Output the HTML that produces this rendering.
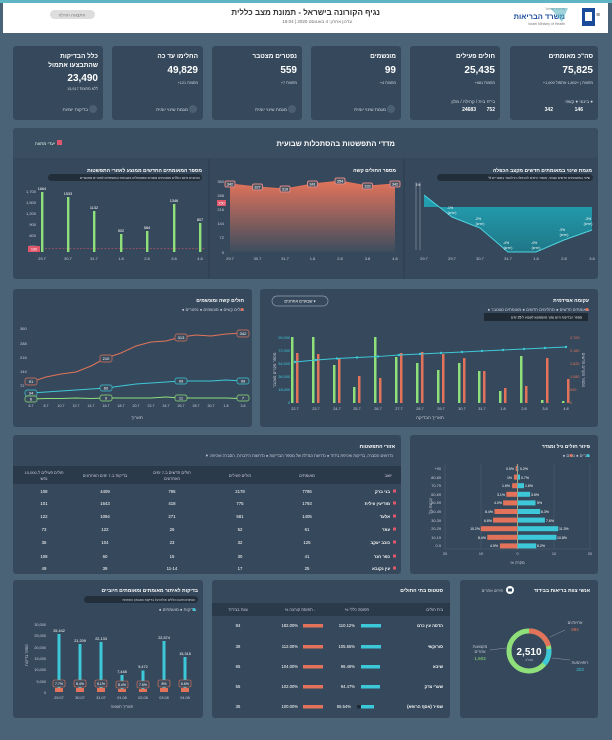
<!DOCTYPE html>
<html><head><meta charset="utf-8"><style>
html,body{margin:0;padding:0;background:#4b6377;}
svg{display:block;font-family:"Liberation Sans","DejaVu Sans",sans-serif;}
</style></head><body>
<svg width="612" height="740" viewBox="0 0 612 740" xmlns="http://www.w3.org/2000/svg">
<rect width="612" height="740" fill="#4b6377"/>
<rect x="0" y="0" width="612" height="3" fill="#5fb5c4"/>
<!-- header -->
<rect x="3" y="3" width="605" height="30" fill="#ffffff"/>
<text x="380" y="15" font-size="8" font-weight="bold" fill="#333" text-anchor="end">נגיף הקורונה בישראל - תמונת מצב כללית</text>
<text x="352" y="23" font-size="4.5" fill="#666" text-anchor="end">עדכון אחרון: 4 באוגוסט 2020 | 19:04</text>
<rect x="50" y="10" width="45" height="9" rx="4.5" fill="#ddd"/>
<text x="72" y="16.5" font-size="4.5" fill="#777" text-anchor="middle">התצוגה הגילה</text>
<rect x="582" y="8" width="13" height="18" fill="#1a4b9b"/><rect x="585" y="12" width="7" height="9" fill="#fff"/>
<text x="596" y="17" font-size="7" fill="#555">≡</text>
<text x="565" y="19" font-size="7.5" font-weight="bold" fill="#1a4b9b" text-anchor="end">משרד הבריאות</text>
<text x="565" y="10" font-size="3.5" fill="#777" text-anchor="end">מדינת ישראל</text>
<text x="565" y="25" font-size="3.5" fill="#777" text-anchor="end">Israel Ministry of Health</text>
<polygon points="548,8 566,8 560,22" fill="#5fb5c4" opacity="0.6" transform="translate(2,0)"/>

<!-- KPI cards -->
<g font-size="5" fill="#fff">
<rect x="510" y="46" width="88" height="74" rx="3" fill="#36495c"/>
<text x="593" y="58" font-size="6.5" font-weight="bold" text-anchor="end" fill="#fff">סה"כ מאומתים</text>
<text x="593" y="73" font-size="10" font-weight="bold" text-anchor="end" fill="#fff">75,825</text>
<text x="593" y="84" font-size="3.8" text-anchor="end" fill="#cfd8e0">+1,009 מחצות | +1,802 אתמול</text>
<text x="593" y="103" font-size="4.5" text-anchor="end" fill="#cfd8e0">בינוני ● קשה ●</text>
<text x="583" y="111" font-size="5" font-weight="bold" text-anchor="end" fill="#fff">146</text>
<text x="553" y="111" font-size="5" font-weight="bold" text-anchor="end" fill="#fff">342</text>

<rect x="410" y="46" width="90" height="74" rx="3" fill="#36495c"/>
<text x="495" y="58" font-size="6.5" font-weight="bold" text-anchor="end" fill="#fff">חולים פעילים</text>
<text x="495" y="73" font-size="10" font-weight="bold" text-anchor="end" fill="#fff">25,435</text>
<text x="495" y="84" font-size="3.8" text-anchor="end" fill="#cfd8e0">+881 מחצות</text>
<text x="495" y="103" font-size="4.5" text-anchor="end" fill="#cfd8e0">בי"ח   בית / קהילה / מלון</text>
<text x="495" y="111" font-size="5" font-weight="bold" text-anchor="end" fill="#fff">752</text>
<text x="476" y="111" font-size="5" font-weight="bold" text-anchor="end" fill="#fff">24683</text>

<rect x="311" y="46" width="90" height="74" rx="3" fill="#36495c"/>
<text x="396" y="58" font-size="6.5" font-weight="bold" text-anchor="end" fill="#fff">מונשמים</text>
<text x="396" y="73" font-size="10" font-weight="bold" text-anchor="end" fill="#fff">99</text>
<text x="396" y="84" font-size="3.8" text-anchor="end" fill="#cfd8e0">+4 מחצות</text>
<text x="386" y="111" font-size="4.5" text-anchor="end" fill="#cfd8e0">מגמת שינוי יומית</text>
<circle cx="391" cy="109" r="4" fill="#4b5f72"/>

<rect x="212" y="46" width="90" height="74" rx="3" fill="#36495c"/>
<text x="297" y="58" font-size="6.5" font-weight="bold" text-anchor="end" fill="#fff">נפטרים מצטבר</text>
<text x="297" y="73" font-size="10" font-weight="bold" text-anchor="end" fill="#fff">559</text>
<text x="297" y="84" font-size="3.8" text-anchor="end" fill="#cfd8e0">+7 מחצות</text>
<text x="287" y="111" font-size="4.5" text-anchor="end" fill="#cfd8e0">מגמת שינוי יומית</text>
<circle cx="292" cy="109" r="4" fill="#4b5f72"/>

<rect x="112" y="46" width="91" height="74" rx="3" fill="#36495c"/>
<text x="198" y="58" font-size="6.5" font-weight="bold" text-anchor="end" fill="#fff">החלימו עד כה</text>
<text x="198" y="73" font-size="10" font-weight="bold" text-anchor="end" fill="#fff">49,829</text>
<text x="198" y="84" font-size="3.8" text-anchor="end" fill="#cfd8e0">+121 מחצות</text>
<text x="188" y="111" font-size="4.5" text-anchor="end" fill="#cfd8e0">מגמת שינוי יומית</text>
<circle cx="193" cy="109" r="4" fill="#4b5f72"/>

<rect x="13" y="46" width="90" height="74" rx="3" fill="#36495c"/>
<text x="98" y="58" font-size="6.5" font-weight="bold" text-anchor="end" fill="#fff">כלל הבדיקות</text>
<text x="98" y="67" font-size="6.5" font-weight="bold" text-anchor="end" fill="#fff">שהתבצעו אתמול</text>
<text x="98" y="81" font-size="10" font-weight="bold" text-anchor="end" fill="#fff">23,490</text>
<text x="98" y="90" font-size="3.8" text-anchor="end" fill="#cfd8e0">15,917 ללא מחצות</text>
<text x="88" y="111" font-size="4.5" text-anchor="end" fill="#cfd8e0">בדיקות יומיות</text>
<circle cx="93" cy="109" r="4" fill="#4b5f72"/>
</g>

<!-- Section 2 -->
<rect x="13" y="128" width="585" height="151" rx="3" fill="#36495c"/>
<rect x="13" y="128" width="585" height="30" rx="3" fill="#3a4e61"/>
<text x="395" y="146" font-size="7.5" font-weight="bold" fill="#fff" text-anchor="end">מדדי התפשטות בהסתכלות שבועית</text>
<rect x="57" y="140" width="5" height="5" fill="#e0566a"/>
<text x="55" y="145" font-size="4.5" fill="#dfe" text-anchor="end">יעדי מתווה</text>
<line x1="209" y1="159" x2="209" y2="279" stroke="#2a3a4a" stroke-width="1"/>
<line x1="404" y1="159" x2="404" y2="279" stroke="#2a3a4a" stroke-width="1"/>
<!-- right panel -->
<text x="592" y="172" font-size="5" font-weight="bold" fill="#fff" text-anchor="end">מגמת שינוי במאומתים חדשים מקצב הכפלה</text>
<rect x="437" y="174" width="156" height="7" rx="3.5" fill="#222f3b"/>
<text x="590" y="179" font-size="3.3" fill="#dde" text-anchor="end">% שינוי במאומתים חדשים שבועי, מספר הימים להכפלה הרלוונטי בסוגריים</text>
<defs><linearGradient id="tg" x1="0" y1="0" x2="0" y2="1"><stop offset="0" stop-color="#1fb3c4"/><stop offset="1" stop-color="#1b7e8e"/></linearGradient>
<linearGradient id="og" x1="0" y1="0" x2="0" y2="1"><stop offset="0" stop-color="#e2735a"/><stop offset="1" stop-color="#3d4d5e"/></linearGradient></defs>
<polygon points="424,195 452,217 480,228 508,252 536,252 564,240 592,230 592,207 424,207" fill="url(#tg)" opacity="0.85"/>
<polyline points="424,195 452,217 480,228 508,252 536,252 564,240 592,230" fill="none" stroke="#4fd3e0" stroke-width="1"/>
<g stroke="#aab" stroke-width="0.5"><line x1="416" y1="182" x2="416" y2="250"/><line x1="420" y1="182" x2="420" y2="250"/></g>
<text x="418" y="186" font-size="3.5" fill="#fff" text-anchor="middle">1%</text>
<g font-size="3.5" fill="#fff" text-anchor="middle">
<text x="450" y="209">-1%</text><text x="452" y="214">(ימים)</text>
<text x="478" y="220">-2%</text><text x="480" y="225">(ימים)</text>
<text x="506" y="244">-4%</text><text x="508" y="249">(ימים)</text>
<text x="534" y="244">-4%</text><text x="536" y="249">(ימים)</text>
<text x="562" y="231">-3%</text><text x="564" y="236">(ימים)</text>
<text x="588" y="220">-3%</text><text x="588" y="225">(ימים)</text>
</g>
<g font-size="4" fill="#ccd" text-anchor="middle">
<text x="424" y="260">29.7</text><text x="452" y="260">29.7</text><text x="480" y="260">30.7</text><text x="508" y="260">31.7</text><text x="536" y="260">1.8</text><text x="564" y="260">2.8</text><text x="592" y="260">3.8</text></g>
<!-- middle panel -->
<text x="396" y="172" font-size="5" font-weight="bold" fill="#fff" text-anchor="end">מספר החולים קשה</text>
<polygon points="230,184 257.5,187 285,189 312.5,184 340,181 367.5,186 395,184 395,252 230,252" fill="url(#og)"/>
<polyline points="230,184 257.5,187 285,189 312.5,184 340,181 367.5,186 395,184" fill="none" stroke="#e2735a" stroke-width="1"/>
<g font-size="4" fill="#ccd" text-anchor="end"><text x="224" y="183">360</text><text x="224" y="197">288</text><text x="224" y="211">216</text><text x="224" y="225">144</text><text x="224" y="239">72</text><text x="224" y="254">0</text></g>
<rect x="217" y="200" width="9" height="6" fill="#e0566a"/><text x="221.5" y="204.5" font-size="3.8" fill="#fff" text-anchor="middle">250</text>
<g font-size="3.8" fill="#fff" text-anchor="middle">
<rect x="225" y="181" width="10" height="6" rx="1.5" fill="#4a5560" stroke="#d88"/><text x="230" y="185.5">342</text>
<rect x="252.5" y="184" width="10" height="6" rx="1.5" fill="#4a5560" stroke="#d88"/><text x="257.5" y="188.5">327</text>
<rect x="280" y="186" width="10" height="6" rx="1.5" fill="#4a5560" stroke="#d88"/><text x="285" y="190.5">319</text>
<rect x="307.5" y="181" width="10" height="6" rx="1.5" fill="#4a5560" stroke="#d88"/><text x="312.5" y="185.5">341</text>
<rect x="335" y="178" width="10" height="6" rx="1.5" fill="#4a5560" stroke="#d88"/><text x="340" y="182.5">354</text>
<rect x="362.5" y="183" width="10" height="6" rx="1.5" fill="#4a5560" stroke="#d88"/><text x="367.5" y="187.5">333</text>
<rect x="390" y="181" width="10" height="6" rx="1.5" fill="#4a5560" stroke="#d88"/><text x="395" y="185.5">342</text></g>
<g font-size="4" fill="#ccd" text-anchor="middle"><text x="230" y="260">29.7</text><text x="257.5" y="260">30.7</text><text x="285" y="260">31.7</text><text x="312.5" y="260">1.8</text><text x="340" y="260">2.8</text><text x="367.5" y="260">3.8</text><text x="395" y="260">4.8</text></g>
<!-- left panel -->
<text x="202" y="172" font-size="5" font-weight="bold" fill="#fff" text-anchor="end">מספר המאומתים החדשים ממוצע לאזורי התפשטות</text>
<rect x="48" y="174" width="154" height="7" rx="3.5" fill="#222f3b"/>
<text x="200" y="179" font-size="3.3" fill="#dde" text-anchor="end">הנתונים אינם כוללים מאומתים משבים שמטופלים בשבתות ובאשפוזים לאזורים מאושרים</text>
<g font-size="4" fill="#ccd" text-anchor="end"><text x="36" y="193">1,700</text><text x="36" y="204">1,500</text><text x="36" y="215">1,200</text><text x="36" y="226">900</text><text x="36" y="237">600</text><text x="36" y="248">300</text></g>
<line x1="38" y1="248.5" x2="205" y2="248.5" stroke="#e0566a" stroke-width="0.6" stroke-dasharray="2,1.5"/>
<rect x="28" y="246" width="12" height="6" fill="#e0566a"/><text x="34" y="250.5" font-size="3.8" fill="#fff" text-anchor="middle">100</text>
<g fill="#8fe07a">
<rect x="41" y="192" width="2.4" height="60"/><rect x="67" y="197" width="2.4" height="55"/><rect x="93" y="211" width="2.4" height="41"/><rect x="120" y="234" width="2.4" height="18"/><rect x="146" y="231" width="2.4" height="21"/><rect x="173" y="204" width="2.4" height="48"/><rect x="199" y="223" width="2.4" height="29"/></g>
<g font-size="3.8" fill="#fff" text-anchor="middle"><text x="42" y="190">1664</text><text x="68" y="195">1533</text><text x="94" y="209">1132</text><text x="121" y="232">502</text><text x="147" y="229">584</text><text x="174" y="202">1346</text><text x="200" y="221">807</text></g>
<g font-size="4" fill="#ccd" text-anchor="middle"><text x="42" y="260">29.7</text><text x="68" y="260">30.7</text><text x="94" y="260">31.7</text><text x="121" y="260">1.8</text><text x="147" y="260">2.8</text><text x="174" y="260">3.8</text><text x="200" y="260">4.8</text></g>

<!-- Section 3 left -->
<rect x="13" y="289" width="239" height="138" rx="3" fill="#36495c"/>
<text x="244" y="302" font-size="5" font-weight="bold" fill="#fff" text-anchor="end">חולים קשה ומונשמים</text>
<text x="244" y="311" font-size="4.2" fill="#ccd" text-anchor="end">● חולים קשים  ● מונשמים  ● נפטרים</text>
<circle cx="242" cy="309.5" r="1.5" fill="#e2735a"/>
<g font-size="4" fill="#ccd"><text x="20" y="330">360</text><text x="20" y="345">288</text><text x="20" y="359">216</text><text x="20" y="373">144</text><text x="20" y="387">72</text></g>
<polyline points="31,382 46,377 61,374 76,372 91,366 106,358 121,353 136,346 151,342 166,341 181,337 196,335 211,336 226,334 243,333" fill="none" stroke="#e2735a" stroke-width="1"/>
<polyline points="31,393 46,392 61,391 76,390 91,389 106,388 121,386 136,384 151,383 166,382 181,381 196,381 211,381 226,380 243,381" fill="none" stroke="#3cc8d8" stroke-width="1"/>
<polyline points="31,399 46,398.5 61,398.5 76,398 91,398.5 106,398 121,398 136,398 151,398 166,397 181,398 196,398 211,398 226,398 243,398.6" fill="none" stroke="#8fe07a" stroke-width="1"/>
<g font-size="4" fill="#fff" text-anchor="middle" stroke-width="0.7">
<rect x="25" y="378" width="12" height="7" rx="2" fill="#3a4b5d" stroke="#e2735a"/><text x="31" y="383">91</text>
<rect x="100" y="355" width="12" height="7" rx="2" fill="#3a4b5d" stroke="#e2735a"/><text x="106" y="360">210</text>
<rect x="175" y="334" width="12" height="7" rx="2" fill="#3a4b5d" stroke="#e2735a"/><text x="181" y="339">313</text>
<rect x="237" y="330" width="12" height="7" rx="2" fill="#3a4b5d" stroke="#e2735a"/><text x="243" y="335">342</text>
<rect x="25" y="390" width="12" height="6" rx="2" fill="#3a4b5d" stroke="#3cc8d8"/><text x="31" y="394.5">34</text>
<rect x="100" y="385" width="12" height="6" rx="2" fill="#3a4b5d" stroke="#3cc8d8"/><text x="106" y="389.5">60</text>
<rect x="175" y="378" width="12" height="6" rx="2" fill="#3a4b5d" stroke="#3cc8d8"/><text x="181" y="382.5">99</text>
<rect x="237" y="378" width="12" height="6" rx="2" fill="#3a4b5d" stroke="#3cc8d8"/><text x="243" y="382.5">99</text>
<rect x="25" y="396" width="12" height="6" rx="2" fill="#3a4b5d" stroke="#8fe07a"/><text x="31" y="400.5">6</text>
<rect x="100" y="395" width="12" height="6" rx="2" fill="#3a4b5d" stroke="#8fe07a"/><text x="106" y="399.5">9</text>
<rect x="175" y="395" width="12" height="6" rx="2" fill="#3a4b5d" stroke="#8fe07a"/><text x="181" y="399.5">11</text>
<rect x="237" y="395" width="12" height="6" rx="2" fill="#3a4b5d" stroke="#8fe07a"/><text x="243" y="399.5">7</text></g>
<g font-size="3.6" fill="#ccd" text-anchor="middle"><text x="31" y="407">6.7</text><text x="46" y="407">8.7</text><text x="61" y="407">10.7</text><text x="76" y="407">12.7</text><text x="91" y="407">14.7</text><text x="106" y="407">16.7</text><text x="121" y="407">18.7</text><text x="136" y="407">20.7</text><text x="151" y="407">22.7</text><text x="166" y="407">24.7</text><text x="181" y="407">26.7</text><text x="196" y="407">28.7</text><text x="211" y="407">30.7</text><text x="226" y="407">1.8</text><text x="243" y="407">3.8</text></g>
<text x="137" y="419" font-size="4.5" fill="#ccd" text-anchor="middle">תאריך</text>

<!-- Section 3 right -->
<rect x="260" y="289" width="338" height="138" rx="3" fill="#36495c"/>
<text x="589" y="302" font-size="5" font-weight="bold" fill="#fff" text-anchor="end">עקומה אפידמית</text>
<rect x="272" y="296" width="56" height="10" rx="5" fill="none" stroke="#8fa0b0" stroke-width="0.7"/>
<text x="300" y="302.5" font-size="4" fill="#fff" text-anchor="middle">שבועיים אחרונים ▾</text>
<text x="589" y="311" font-size="4.2" fill="#ccd" text-anchor="end">● מאומתים חדשים  ● מחלימים חדשים  ● מאומתים מצטבר</text>
<circle cx="587" cy="309.5" r="1.5" fill="#e2735a"/>
<rect x="484" y="313" width="104" height="8" fill="#1f2a35"/>
<text x="582" y="318.5" font-size="3.2" fill="#fff" text-anchor="end">מספר הבדיקות היום נמוך מהממוצע לשבוע ל-25 ימים</text>
<g font-size="3.8" fill="#3cc8d8" text-anchor="end"><text x="290" y="339">90,000</text><text x="290" y="352">72,000</text><text x="290" y="365">54,000</text><text x="290" y="378">36,000</text><text x="290" y="391">18,000</text><text x="290" y="404">0</text></g>
<g font-size="3.8" fill="#e2735a"><text x="570" y="339">2,700</text><text x="570" y="352">2,160</text><text x="570" y="365">1,620</text><text x="570" y="378">1,080</text><text x="570" y="391">540</text><text x="570" y="404">0</text></g>
<text x="276" y="370" font-size="4" fill="#ccd" text-anchor="middle" transform="rotate(-90 276 370)">מספר מקרים מצטבר</text>
<text x="582" y="370" font-size="4" fill="#ccd" text-anchor="middle" transform="rotate(90 582 370)">מספר מקרים חדשים</text>
<g fill="#8fe07a">
<rect x="291" y="337" width="2.5" height="66"/><rect x="312" y="337" width="2.5" height="66"/><rect x="333" y="365" width="2.5" height="38"/><rect x="353" y="387" width="2.5" height="16"/><rect x="374" y="337" width="2.5" height="66"/><rect x="395" y="357" width="2.5" height="46"/><rect x="416" y="363" width="2.5" height="40"/><rect x="437" y="370" width="2.5" height="33"/><rect x="458" y="363" width="2.5" height="40"/><rect x="478" y="371" width="2.5" height="32"/><rect x="499" y="391" width="2.5" height="12"/><rect x="520" y="356" width="2.5" height="47"/><rect x="541" y="400" width="2.5" height="3"/><rect x="562" y="401" width="2.5" height="2"/></g>
<g fill="#e2735a">
<rect x="296" y="353" width="2.5" height="50"/><rect x="317" y="354" width="2.5" height="49"/><rect x="338" y="358" width="2.5" height="45"/><rect x="358" y="376" width="2.5" height="27"/><rect x="379" y="378" width="2.5" height="25"/><rect x="400" y="353" width="2.5" height="50"/><rect x="421" y="352" width="2.5" height="51"/><rect x="442" y="354" width="2.5" height="49"/><rect x="463" y="358" width="2.5" height="45"/><rect x="483" y="371" width="2.5" height="32"/><rect x="504" y="388" width="2.5" height="15"/><rect x="525" y="386" width="2.5" height="17"/><rect x="546" y="358" width="2.5" height="45"/><rect x="567" y="379" width="2.5" height="24"/></g>
<polyline points="295,362 316,360 337,358.5 357,357.5 378,356.5 399,355 420,354 441,353 462,352 482,351 503,350 524,349 545,348 566,347" fill="none" stroke="#3cc8d8" stroke-width="0.9"/>
<g fill="#3cc8d8"><circle cx="295" cy="362" r="1.2"/><circle cx="316" cy="360" r="1.2"/><circle cx="337" cy="358.5" r="1.2"/><circle cx="357" cy="357.5" r="1.2"/><circle cx="378" cy="356.5" r="1.2"/><circle cx="399" cy="355" r="1.2"/><circle cx="420" cy="354" r="1.2"/><circle cx="441" cy="353" r="1.2"/><circle cx="462" cy="352" r="1.2"/><circle cx="482" cy="351" r="1.2"/><circle cx="503" cy="350" r="1.2"/><circle cx="524" cy="349" r="1.2"/><circle cx="545" cy="348" r="1.2"/><circle cx="566" cy="347" r="1.2"/></g>
<g font-size="3.8" fill="#ccd" text-anchor="middle"><text x="295" y="410">22.7</text><text x="316" y="410">23.7</text><text x="337" y="410">24.7</text><text x="357" y="410">25.7</text><text x="378" y="410">26.7</text><text x="399" y="410">27.7</text><text x="420" y="410">28.7</text><text x="441" y="410">29.7</text><text x="462" y="410">30.7</text><text x="482" y="410">31.7</text><text x="503" y="410">1.8</text><text x="524" y="410">2.8</text><text x="545" y="410">3.8</text><text x="566" y="410">4.8</text></g>
<text x="430" y="419" font-size="4.5" fill="#ccd" text-anchor="middle">תאריך הבדיקה</text>

<!-- Section 4 table -->
<rect x="13" y="435" width="388" height="139" rx="3" fill="#36495c"/>
<text x="395" y="448" font-size="5" font-weight="bold" fill="#fff" text-anchor="end">אזורי התפשטות</text>
<text x="393" y="457" font-size="4" fill="#ccd" text-anchor="end">▼ נדרשים הסברה, בדיקות ואכיפת בידוד   ● נדרשת הגדלה של מספר הבדיקות   ● נדרשות הידברות, הסברה ואכיפה</text>
<rect x="13" y="466" width="388" height="18" fill="#2a3a4a"/>
<g font-size="4" fill="#ccd" text-anchor="middle">
<text x="392" y="477" text-anchor="end">ישוב</text><text x="307" y="477">מאומתים</text><text x="240" y="477">חולים פעילים</text>
<text x="172" y="474">חולים חדשים ב-7 ימים</text><text x="172" y="480">האחרונים</text>
<text x="105" y="477">בדיקות ב-7 ימים האחרונים</text>
<text x="44" y="474">חולים פעילים ל-10,000</text><text x="44" y="480">נפש</text></g>
<g font-size="4.3" fill="#fff" text-anchor="middle">
<g><text x="390" y="493" text-anchor="end" font-weight="bold">בני ברק</text><text x="307" y="493">7786</text><text x="240" y="493">2178</text><text x="172" y="493">795</text><text x="105" y="493">4409</text><text x="44" y="493">108</text></g>
<g><text x="390" y="505" text-anchor="end" font-weight="bold">מודיעין עילית</text><text x="307" y="505">1793</text><text x="240" y="505">775</text><text x="172" y="505">418</text><text x="105" y="505">1643</text><text x="44" y="505">101</text></g>
<g><text x="390" y="518" text-anchor="end" font-weight="bold">אלעד</text><text x="307" y="518">1405</text><text x="240" y="518">581</text><text x="172" y="518">271</text><text x="105" y="518">1094</text><text x="44" y="518">122</text></g>
<g><text x="390" y="531" text-anchor="end" font-weight="bold">עוזר</text><text x="307" y="531">61</text><text x="240" y="531">52</text><text x="172" y="531">26</text><text x="105" y="531">122</text><text x="44" y="531">73</text></g>
<g><text x="390" y="544" text-anchor="end" font-weight="bold">כוכב יעקב</text><text x="307" y="544">125</text><text x="240" y="544">32</text><text x="172" y="544">23</text><text x="105" y="544">104</text><text x="44" y="544">36</text></g>
<g><text x="390" y="558" text-anchor="end" font-weight="bold">כפר חנר</text><text x="307" y="558">41</text><text x="240" y="558">30</text><text x="172" y="558">15</text><text x="105" y="558">60</text><text x="44" y="558">108</text></g>
<g><text x="390" y="570" text-anchor="end" font-weight="bold">עין נקובא</text><text x="307" y="570">25</text><text x="240" y="570">17</text><text x="172" y="570">11-14</text><text x="105" y="570">39</text><text x="44" y="570">49</text></g>
</g>
<g fill="#e0566a"><rect x="393" y="489.5" width="3" height="3"/><rect x="393" y="501.5" width="3" height="3"/><rect x="393" y="514.5" width="3" height="3"/><rect x="393" y="527.5" width="3" height="3"/><rect x="393" y="540.5" width="3" height="3"/><rect x="393" y="554.5" width="3" height="3"/><rect x="393" y="566.5" width="3" height="3"/></g>

<!-- pyramid -->
<rect x="410" y="435" width="188" height="139" rx="3" fill="#36495c"/>
<text x="590" y="448" font-size="5" font-weight="bold" fill="#fff" text-anchor="end">פיזור חולים גיל ומגדר</text>
<text x="590" y="457" font-size="4.2" fill="#ccd" text-anchor="end">● גברים  ● נשים</text>
<circle cx="588" cy="455.5" r="1.5" fill="#3cc8d8"/><circle cx="571" cy="455.5" r="1.5" fill="#e2735a"/>
<g stroke="#556677" stroke-width="0.4"><line x1="445" y1="464" x2="445" y2="549"/><line x1="481" y1="464" x2="481" y2="549"/><line x1="554" y1="464" x2="554" y2="549"/><line x1="590" y1="464" x2="590" y2="549"/><line x1="445" y1="549" x2="590" y2="549"/></g>
<line x1="517.5" y1="464" x2="517.5" y2="549" stroke="#ffe08a" stroke-width="0.6"/>
<g font-size="3.8" fill="#ccd" text-anchor="end"><text x="441" y="470">+90</text><text x="441" y="479">80-89</text><text x="441" y="487">70-79</text><text x="441" y="496">60-69</text><text x="441" y="504">50-59</text><text x="441" y="513">40-49</text><text x="441" y="522">30-39</text><text x="441" y="530">20-29</text><text x="441" y="539">10-19</text><text x="441" y="547">0-9</text></g>
<g fill="#e2735a">
<rect x="515.7" y="466" width="1.8" height="5"/><rect x="513.9" y="474.6" width="3.6" height="5"/><rect x="512.1" y="483.2" width="5.4" height="5"/><rect x="506.3" y="491.8" width="11.2" height="5"/><rect x="503.1" y="500.4" width="14.4" height="5"/><rect x="494.5" y="509" width="23" height="5"/><rect x="493" y="517.6" width="24.5" height="5"/><rect x="480.8" y="526.2" width="36.7" height="5"/><rect x="487.3" y="534.8" width="30.2" height="5"/><rect x="499.9" y="543.4" width="17.6" height="5"/></g>
<g fill="#3cc8d8">
<rect x="517.5" y="466" width="0.8" height="5"/><rect x="517.5" y="474.6" width="2.5" height="5"/><rect x="517.5" y="483.2" width="6.5" height="5"/><rect x="517.5" y="491.8" width="12.6" height="5"/><rect x="517.5" y="500.4" width="18" height="5"/><rect x="517.5" y="509" width="22.7" height="5"/><rect x="517.5" y="517.6" width="27.4" height="5"/><rect x="517.5" y="526.2" width="40.7" height="5"/><rect x="517.5" y="534.8" width="38.9" height="5"/><rect x="517.5" y="543.4" width="18.7" height="5"/></g>
<g font-size="3.5" fill="#fff">
<g text-anchor="end"><text x="514" y="470">0.5%</text><text x="512" y="479">1%</text><text x="510" y="487">1.5%</text><text x="505" y="496">3.1%</text><text x="502" y="504">4.0%</text><text x="493" y="513">6.4%</text><text x="492" y="522">6.8%</text><text x="480" y="530">10.2%</text><text x="486" y="539">8.4%</text><text x="498" y="547">4.9%</text></g>
<text x="520" y="470">0.2%</text><text x="521" y="479">0.7%</text><text x="525" y="487">1.8%</text><text x="531" y="496">3.5%</text><text x="537" y="504">5%</text><text x="541" y="513">6.3%</text><text x="546" y="522">7.6%</text><text x="559" y="530">11.3%</text><text x="557" y="539">10.8%</text><text x="537" y="547">5.2%</text></g>
<g font-size="3.8" fill="#ccd" text-anchor="middle"><text x="445" y="555">20</text><text x="481" y="555">10</text><text x="517.5" y="555">0</text><text x="554" y="555">10</text><text x="590" y="555">20</text></g>
<text x="517.5" y="564" font-size="4" fill="#ccd" text-anchor="middle">% מקרה</text>
<text x="432" y="506" font-size="3.8" fill="#ccd" text-anchor="middle" transform="rotate(-90 432 506)">קבוצת גיל</text>

<!-- Section 5 left -->
<rect x="13" y="580" width="190" height="138" rx="3" fill="#36495c"/>
<text x="198" y="592" font-size="5" font-weight="bold" fill="#fff" text-anchor="end">בדיקות לאיתור מאומתים ומאומתים חיוביים</text>
<rect x="84" y="596" width="114" height="7" rx="3.5" fill="#222f3b"/>
<text x="195" y="601" font-size="3.2" fill="#dde" text-anchor="end">הנתונים אינם כוללים חולים על בדיקות האבחון החוזרות</text>
<text x="196" y="611" font-size="4.2" fill="#ccd" text-anchor="end">● בדיקות  ● מאומתים</text>
<circle cx="194" cy="609.5" r="1.5" fill="#3cc8d8"/>
<g font-size="3.8" fill="#ccd" text-anchor="end"><text x="46" y="626">30,000</text><text x="46" y="637">25,000</text><text x="46" y="649">20,000</text><text x="46" y="660">15,000</text><text x="46" y="671">10,000</text><text x="46" y="683">5,000</text><text x="46" y="694">0</text></g>
<g fill="#3cc8d8">
<rect x="57.5" y="634" width="3" height="58"/><rect x="78.5" y="644" width="3" height="48"/><rect x="99.5" y="642" width="3" height="50"/><rect x="120.5" y="675" width="3" height="17"/><rect x="141.5" y="670.5" width="3" height="21.5"/><rect x="162.5" y="641" width="3" height="51"/><rect x="183.5" y="657" width="3" height="35"/></g>
<g font-size="3.8" fill="#fff" text-anchor="middle"><text x="59" y="632">25,442</text><text x="80" y="642">21,209</text><text x="101" y="640">22,133</text><text x="122" y="673">7,448</text><text x="143" y="668">9,472</text><text x="164" y="639">22,574</text><text x="185" y="655">15,315</text></g>
<g font-size="3.5" fill="#fff" text-anchor="middle">
<g fill="#e2735a"><rect x="55" y="688" width="8" height="4"/><rect x="76" y="688" width="8" height="4"/><rect x="97" y="688" width="8" height="4"/><rect x="118" y="689" width="8" height="3"/><rect x="139" y="689" width="8" height="3"/><rect x="160" y="688" width="8" height="4"/><rect x="181" y="688" width="8" height="4"/></g>
<g fill="#3a4b5d" stroke="#e2735a" stroke-width="0.6"><rect x="53" y="680" width="12" height="7" rx="1.5"/><rect x="74" y="680" width="12" height="7" rx="1.5"/><rect x="95" y="680" width="12" height="7" rx="1.5"/><rect x="116" y="681" width="12" height="7" rx="1.5"/><rect x="137" y="681" width="12" height="7" rx="1.5"/><rect x="158" y="680" width="12" height="7" rx="1.5"/><rect x="179" y="680" width="12" height="7" rx="1.5"/></g>
<text x="59" y="685">7.7%</text><text x="80" y="685">8.4%</text><text x="101" y="685">5.1%</text><text x="122" y="686">8.4%</text><text x="143" y="686">7.5%</text><text x="164" y="685">8%</text><text x="185" y="685">6.6%</text></g>
<g font-size="3.8" fill="#ccd" text-anchor="middle"><text x="59" y="699">29.07</text><text x="80" y="699">30.07</text><text x="101" y="699">31.07</text><text x="122" y="699">01.08</text><text x="143" y="699">02.08</text><text x="164" y="699">03.08</text><text x="185" y="699">04.08</text></g>
<text x="122" y="708" font-size="4" fill="#ccd" text-anchor="middle">תאריך תוצאה</text>
<text x="28" y="655" font-size="3.8" fill="#ccd" text-anchor="middle" transform="rotate(-90 28 655)">מספר בדיקות</text>

<!-- Section 5 middle -->
<rect x="212" y="580" width="238" height="138" rx="3" fill="#36495c"/>
<text x="443" y="592" font-size="5" font-weight="bold" fill="#fff" text-anchor="end">סטטוס בתי החולים</text>
<rect x="212" y="603" width="238" height="13" fill="#2a3a4a"/>
<g font-size="4" fill="#ccd" text-anchor="middle"><text x="443" y="611" text-anchor="end">בית חולים</text><text x="357" y="611">% תפוסה כללי</text><text x="300" y="611">% תפוסת קורונה -</text><text x="238" y="611">צוות בבידוד</text></g>
<g font-size="4.2" fill="#fff">
<g><text x="443" y="627" text-anchor="end" font-weight="bold">הדסה עין כרם</text><text x="355" y="627" text-anchor="end">110.12%</text><rect x="361" y="624" width="20" height="3.5" fill="#3cc8d8"/><text x="298" y="627" text-anchor="end">182.00%</text><rect x="303" y="624" width="20" height="3.5" fill="#e2735a"/><text x="238" y="627" text-anchor="middle">84</text></g>
<g><text x="443" y="648" text-anchor="end" font-weight="bold">סורוקשי</text><text x="355" y="648" text-anchor="end">105.55%</text><rect x="361" y="645" width="20" height="3.5" fill="#3cc8d8"/><text x="298" y="648" text-anchor="end">112.00%</text><rect x="303" y="645" width="20" height="3.5" fill="#e2735a"/><text x="238" y="648" text-anchor="middle">39</text></g>
<g><text x="443" y="668" text-anchor="end" font-weight="bold">שיבא</text><text x="355" y="668" text-anchor="end">96.46%</text><rect x="361" y="665" width="19" height="3.5" fill="#3cc8d8"/><text x="298" y="668" text-anchor="end">104.00%</text><rect x="303" y="665" width="20" height="3.5" fill="#e2735a"/><text x="238" y="668" text-anchor="middle">65</text></g>
<g><text x="443" y="688" text-anchor="end" font-weight="bold">שערי צדק</text><text x="355" y="688" text-anchor="end">94.47%</text><rect x="361" y="685" width="19" height="3.5" fill="#3cc8d8"/><text x="298" y="688" text-anchor="end">102.00%</text><rect x="303" y="685" width="20" height="3.5" fill="#e2735a"/><text x="238" y="688" text-anchor="middle">55</text></g>
<g><text x="443" y="708" text-anchor="end" font-weight="bold">שמיר (אסף הרופא)</text><text x="351" y="708" text-anchor="end">65.54%</text><rect x="357" y="705" width="4" height="3.5" fill="#1f2a35"/><rect x="361" y="705" width="13" height="3.5" fill="#3cc8d8"/><text x="298" y="708" text-anchor="end">100.00%</text><rect x="303" y="705" width="20" height="3.5" fill="#e2735a"/><text x="238" y="708" text-anchor="middle">35</text></g>
</g>

<!-- Section 5 right -->
<rect x="460" y="580" width="138" height="138" rx="3" fill="#36495c"/>
<text x="590" y="592" font-size="5" font-weight="bold" fill="#fff" text-anchor="end">אנשי צוות בריאות בבידוד</text>
<circle cx="510" cy="590" r="4" fill="#fff"/><rect x="508" y="588.5" width="4" height="3" fill="#36495c"/>
<text x="503" y="592" font-size="4" fill="#ccd" text-anchor="end">פירוט אחרים</text>
<circle cx="529" cy="651" r="20" fill="none" stroke="#8fe07a" stroke-width="5"/>
<path d="M529 631 A20 20 0 0 1 548.5 646" fill="none" stroke="#e2735a" stroke-width="5"/>
<path d="M548.9 649 A20 20 0 0 1 544 664" fill="none" stroke="#3cc8d8" stroke-width="5"/>
<text x="529" y="655" font-size="10" font-weight="bold" fill="#fff" text-anchor="middle">2,510</text>
<text x="529" y="661" font-size="3.5" fill="#ccd" text-anchor="middle">סה"כ</text>
<line x1="550" y1="637" x2="565" y2="630" stroke="#aab" stroke-width="0.4"/>
<line x1="552" y1="658" x2="570" y2="660" stroke="#aab" stroke-width="0.4"/>
<line x1="506" y1="648" x2="490" y2="650" stroke="#aab" stroke-width="0.4"/>
<text x="575" y="624" font-size="4" fill="#ccd" text-anchor="middle">אחיות/ים</text>
<text x="575" y="631" font-size="4.5" fill="#e2735a" text-anchor="middle">684</text>
<text x="580" y="664" font-size="4" fill="#ccd" text-anchor="middle">רופאים/ות</text>
<text x="580" y="671" font-size="4.5" fill="#3cc8d8" text-anchor="middle">323</text>
<text x="480" y="648" font-size="4" fill="#ccd" text-anchor="middle">מקצועות</text>
<text x="480" y="653" font-size="4" fill="#ccd" text-anchor="middle">אחרים</text>
<text x="480" y="660" font-size="4.5" fill="#8fe07a" text-anchor="middle">1,503</text>
</svg>
</body></html>
